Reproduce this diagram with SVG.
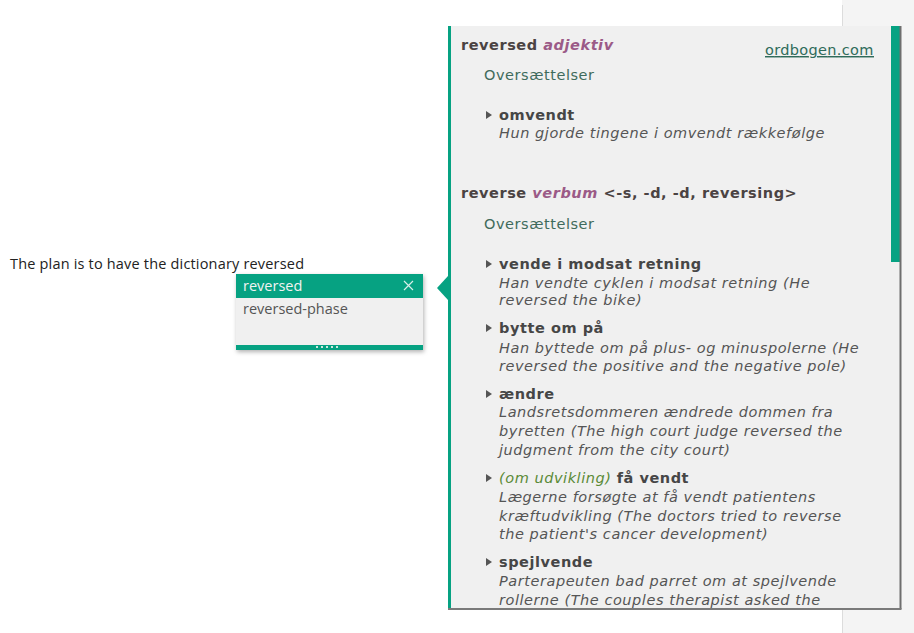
<svg xmlns="http://www.w3.org/2000/svg" width="914" height="633" viewBox="0 0 914 633">
<defs>
<style>
.ui{font-family:"Open Sans","Noto Sans","Liberation Sans",sans-serif;font-size:14.5px}
.d{font-family:"DejaVu Sans",Verdana,sans-serif;font-size:14.5px;letter-spacing:0.55px;fill:#4a4a4a}
.hw{font-weight:bold;fill:#4b4343}
.pos{font-weight:bold;font-style:italic;fill:#9b5a87}
.ov{fill:#3f6b5c}
.tr{font-weight:bold;fill:#464646}
.ex{font-style:italic;fill:#555}
.ctx{font-style:italic;fill:#5a8a36}
.bul{fill:#555}
</style>
<clipPath id="pc"><rect x="448" y="26" width="443" height="582"/></clipPath>
<filter id="sh" x="-10%" y="-10%" width="120%" height="130%"><feDropShadow dx="1" dy="2" stdDeviation="2" flood-color="#000" flood-opacity="0.3"/></filter>
<polygon id="tri" points="0,-4 6,0 0,4"/>
</defs>
<rect width="914" height="633" fill="#fff"/>
<g id="sidebar">
<rect x="842" y="0" width="72" height="633" fill="#f4f4f4"/>
<line x1="842.5" y1="5" x2="842.5" y2="633" stroke="#dcdcdc"/>
</g>
<g id="sentence">
<text class="ui" x="10" y="269" fill="#222" font-size="14" textLength="294">The plan is to have the dictionary reversed</text>
</g>
<g id="autocomplete">
<rect x="236" y="274" width="187" height="76" fill="#f0f0f0" filter="url(#sh)"/>
<rect x="236" y="274" width="187" height="24" fill="#06a282"/>
<text class="ui" x="243" y="291" fill="#f2f2f2">reversed</text>
<path d="M404 281 L413 290 M413 281 L404 290" stroke="#d8eee8" stroke-width="1.2"/>
<text class="ui" x="243" y="314" fill="#555">reversed-phase</text>
<rect x="236" y="345" width="187" height="5" fill="#06a282"/>
<g fill="#cfe9e1"><rect x="316" y="346" width="2" height="2"/><rect x="321" y="346" width="2" height="2"/><rect x="326" y="346" width="2" height="2"/><rect x="331" y="346" width="2" height="2"/><rect x="336" y="346" width="2" height="2"/></g>
</g>
<g id="connectors">
<polygon points="437,288 448,276 448,300" fill="#06a282"/>
</g>
<g id="panel">
<rect x="448" y="26" width="453" height="583" fill="#f0f0f0"/>
<rect x="448" y="26" width="3" height="583" fill="#06a282"/>
<rect x="891" y="26" width="9" height="236" fill="#06a282"/>
<line x1="900.5" y1="26" x2="900.5" y2="609" stroke="#6e6e6e" stroke-width="2"/>
<line x1="448" y1="609" x2="901.5" y2="609" stroke="#7a7a7a" stroke-width="2"/>
<g clip-path="url(#pc)">
<text class="d" x="461" y="50"><tspan class="hw">reversed </tspan><tspan class="pos">adjektiv</tspan></text>
<text class="d" x="765" y="55" text-decoration="underline" style="fill:#2f6b5a" textLength="109">ordbogen.com</text>
<text class="d ov" x="484" y="80">Oversættelser</text>
<use href="#tri" x="486" y="115" class="bul"/>
<text class="d tr" x="499" y="120">omvendt</text>
<text class="d ex" x="499" y="138">Hun gjorde tingene i omvendt rækkefølge</text>
<text class="d" x="461" y="198"><tspan class="hw">reverse </tspan><tspan class="pos">verbum</tspan><tspan class="hw"> &lt;-s, -d, -d, reversing&gt;</tspan></text>
<text class="d ov" x="484" y="229">Oversættelser</text>
<use href="#tri" x="486" y="264" class="bul"/>
<text class="d tr" x="499" y="269">vende i modsat retning</text>
<text class="d ex" x="499" y="288">Han vendte cyklen i modsat retning (He</text>
<text class="d ex" x="499" y="305">reversed the bike)</text>
<use href="#tri" x="486" y="328" class="bul"/>
<text class="d tr" x="499" y="333">bytte om på</text>
<text class="d ex" x="499" y="353">Han byttede om på plus- og minuspolerne (He</text>
<text class="d ex" x="499" y="371">reversed the positive and the negative pole)</text>
<use href="#tri" x="486" y="394" class="bul"/>
<text class="d tr" x="499" y="399">ændre</text>
<text class="d ex" x="499" y="417">Landsretsdommeren ændrede dommen fra</text>
<text class="d ex" x="499" y="436">byretten (The high court judge reversed the</text>
<text class="d ex" x="499" y="455">judgment from the city court)</text>
<use href="#tri" x="486" y="478" class="bul"/>
<text class="d" x="499" y="483"><tspan class="ctx">(om udvikling) </tspan><tspan class="tr">få vendt</tspan></text>
<text class="d ex" x="499" y="502">Lægerne forsøgte at få vendt patientens</text>
<text class="d ex" x="499" y="521">kræftudvikling (The doctors tried to reverse</text>
<text class="d ex" x="499" y="539">the patient's cancer development)</text>
<use href="#tri" x="486" y="562" class="bul"/>
<text class="d tr" x="499" y="567">spejlvende</text>
<text class="d ex" x="499" y="586">Parterapeuten bad parret om at spejlvende</text>
<text class="d ex" x="499" y="605">rollerne (The couples therapist asked the</text>
</g>
</g>
</svg>
